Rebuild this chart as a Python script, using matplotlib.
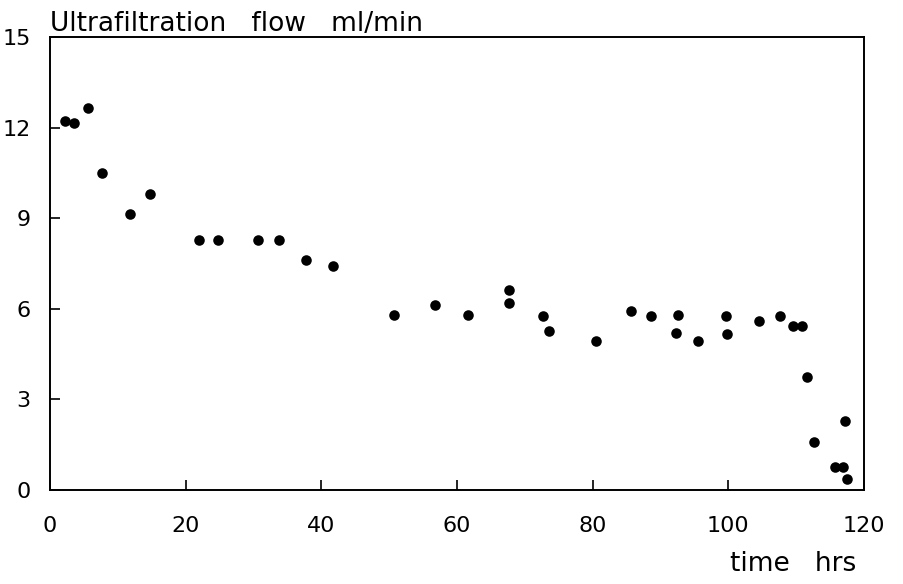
import matplotlib.pyplot as plt

# time (hrs) and ultrafiltration flow (ml/min)
time_hrs = [2.2, 3.5, 5.6, 7.7, 11.8, 14.7, 22.0, 24.8, 30.7, 33.8, 37.7, 41.7,
            50.7, 56.8, 61.6, 67.7, 67.7, 72.7, 73.6, 80.5, 85.7, 88.6, 92.6,
            92.3, 95.5, 99.7, 99.8, 104.5, 107.6, 109.5, 110.9, 111.6, 112.6,
            115.7, 116.9, 117.2, 117.5]
flow = [12.22, 12.15, 12.65, 10.5, 9.14, 9.8, 8.28, 8.28, 8.28, 8.28, 7.62, 7.42,
        5.79, 6.13, 5.79, 6.62, 6.2, 5.76, 5.26, 4.93, 5.93, 5.76, 5.79,
        5.2, 4.93, 5.76, 5.17, 5.6, 5.76, 5.43, 5.43, 3.74, 1.59,
        0.76, 0.76, 2.28, 0.36]

x_ticks = [0, 20, 40, 60, 80, 100, 120]
y_ticks = [0, 3, 6, 9, 12, 15]

plt.rcParams['font.family'] = ['DejaVu Sans']

fig = plt.figure(figsize=(9.04, 5.84), dpi=100)
ax = fig.add_axes([50 / 904, 1 - 490 / 584, 814 / 904, 453 / 584])

ax.plot(time_hrs, flow, 'o', color='black', markersize=7.6, markeredgewidth=0)

ax.set_xlim(0, 120)
ax.set_ylim(0, 15)
ax.set_xticks(x_ticks)
ax.set_yticks(y_ticks)
ax.tick_params(axis='x', direction='in', length=7, width=1.2, labelsize=16, pad=19)
ax.tick_params(axis='y', direction='in', length=7, width=1.2, labelsize=16, pad=14)
for lbl in ax.get_xticklabels() + ax.get_yticklabels():
    lbl.set_fontsize(16)
for s in ax.spines.values():
    s.set_linewidth(1.4)

# title and axis label as free text, like the original
fig.text(50 / 904, 1 - 31 / 584, 'Ultrafiltration   flow   ml/min', fontsize=19,
         ha='left', va='baseline')
fig.text(856 / 904, 1 - 571 / 584, 'time   hrs', fontsize=19,
         ha='right', va='baseline')

fig.savefig('out.png', dpi=100)
